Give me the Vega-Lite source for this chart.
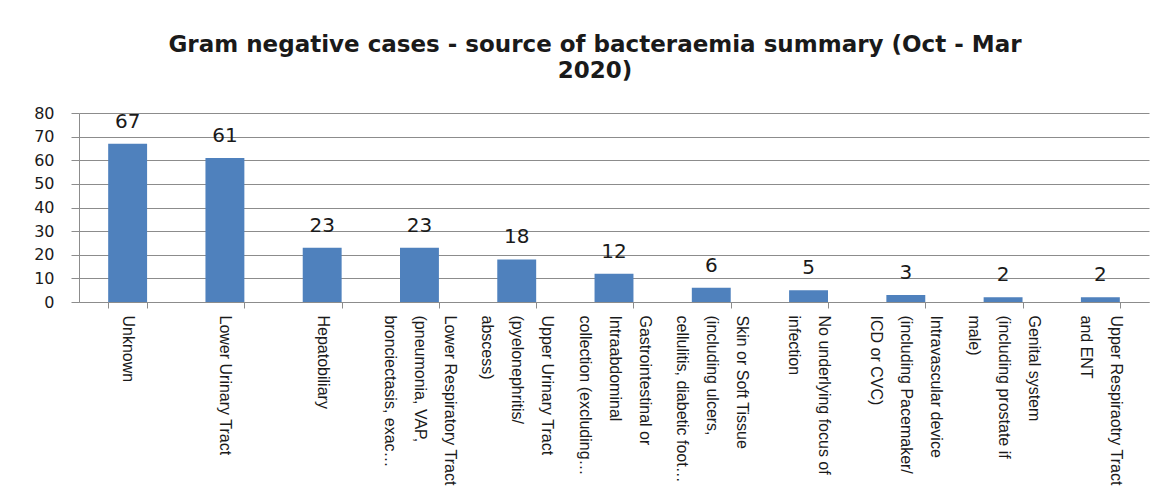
{
  "$schema": "https://vega.github.io/schema/vega-lite/v6.json",
  "width": 1070,
  "height": 189,
  "autosize": {"type": "none"},
  "padding": {"left": 79, "top": 113, "right": 25, "bottom": 202},
  "background": "white",
  "title": {
    "text": ["Gram negative cases - source of bacteraemia summary (Oct - Mar", "2020)"],
    "font": "DejaVu Sans",
    "fontSize": 23,
    "fontWeight": "bold",
    "color": "#1a1a1a",
    "lineHeight": 26,
    "anchor": "middle",
    "frame": "group",
    "dx": -19,
    "offset": 22
  },
  "data": {
    "values": [
      {"source": "Unknown", "cases": 67},
      {"source": "Lower Urinary Tract", "cases": 61},
      {"source": "Hepatobiliary", "cases": 23},
      {"source": "Lower Respiratory Tract\n(pneumonia, VAP,\nbronciectasis, exac…", "cases": 23},
      {"source": "Upper Urinary Tract\n(pyelonephritis/\nabscess)", "cases": 18},
      {"source": "Gastrointestinal or\nIntraabdominal\ncollection (excluding…", "cases": 12},
      {"source": "Skin or Soft Tissue\n(including ulcers,\ncellulitis, diabetic foot…", "cases": 6},
      {"source": "No underlying focus of\ninfection", "cases": 5},
      {"source": "Intravascular device\n(including Pacemaker/\nICD or CVC)", "cases": 3},
      {"source": "Genital system\n(including prostate if\nmale)", "cases": 2},
      {"source": "Upper Respiraotry Tract\nand ENT", "cases": 2}
    ]
  },
  "encoding": {
    "x": {
      "field": "source",
      "type": "nominal",
      "sort": null,
      "scale": {"paddingInner": 0.6, "paddingOuter": 0.3},
      "axis": {
        "title": null,
        "labelExpr": "split(datum.label, '\\n')",
        "labelAngle": 90,
        "labelAlign": "left",
        "labelBaseline": "middle",
        "labelFont": "Liberation Sans",
        "labelFontSize": 16,
        "labelLineHeight": 30,
        "labelColor": "#1a1a1a",
        "labelLimit": 0,
        "labelOverlap": false,
        "labelBound": false,
        "labelPadding": 7,
        "labelOffset": {
          "condition": [
            {"test": "length(split(datum.label, '\\n')) == 3", "value": 30},
            {"test": "length(split(datum.label, '\\n')) == 2", "value": 15}
          ],
          "value": 0
        },
        "tickBand": "extent",
        "tickSize": 6,
        "tickColor": "#8c8c8c",
        "domainColor": "#8c8c8c",
        "grid": false
      }
    },
    "y": {
      "field": "cases",
      "type": "quantitative",
      "scale": {"domain": [0, 80], "nice": false},
      "axis": {
        "title": null,
        "values": [0, 10, 20, 30, 40, 50, 60, 70, 80],
        "labelFont": "DejaVu Sans",
        "labelFontSize": 16,
        "labelColor": "#1a1a1a",
        "labelPadding": 17,
        "tickSize": 8,
        "tickColor": "#8c8c8c",
        "domainColor": "#8c8c8c",
        "gridColor": "#8c8c8c",
        "grid": true
      }
    }
  },
  "layer": [
    {"mark": {"type": "bar", "color": "#4F81BD"}},
    {
      "mark": {
        "type": "text",
        "baseline": "alphabetic",
        "dy": -16,
        "font": "DejaVu Sans",
        "fontSize": 20,
        "color": "#1a1a1a"
      },
      "encoding": {"text": {"field": "cases", "type": "quantitative"}}
    }
  ],
  "config": {
    "view": {"stroke": null}
  }
}
